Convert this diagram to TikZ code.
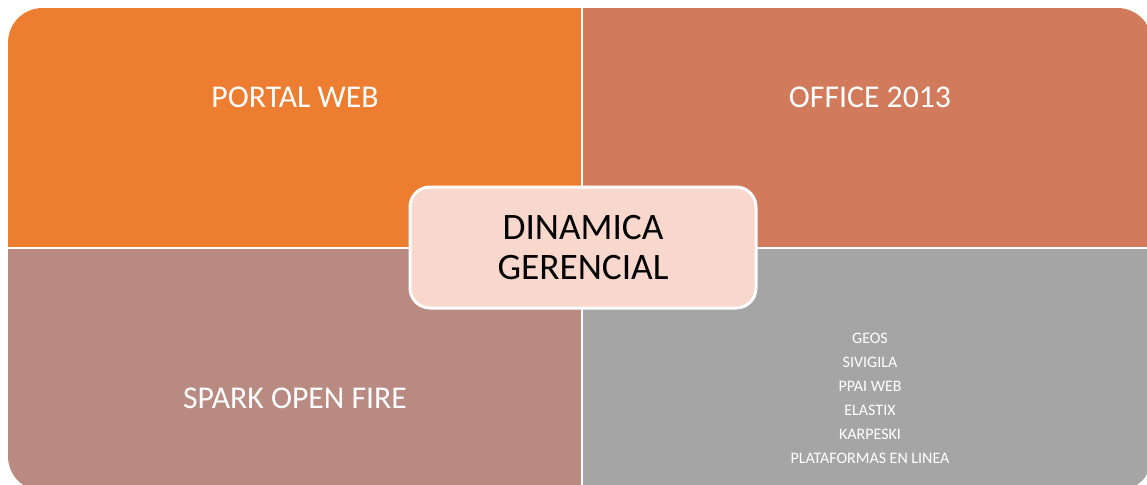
\documentclass[tikz,border=0pt]{standalone}
\usepackage{fontspec}
\setmainfont{Carlito}
\definecolor{qorange}{HTML}{ED7D31}
\definecolor{qsalmon}{HTML}{D27B5C}
\definecolor{qmauve}{HTML}{B98A82}
\definecolor{qgrey}{HTML}{A5A5A5}
\definecolor{qcenter}{HTML}{F8D7CC}
\begin{document}
\begin{tikzpicture}[x=0.75pt,y=-0.75pt,
  quadtext/.style={text=white,font=\fontsize{23.8}{28}\selectfont,align=center},
  listtext/.style={text=white,font=\fontsize{12}{18}\selectfont,align=center},
  hub/.style={draw=white,line width=2.25pt,fill=qcenter,rounded corners=15pt,
    minimum width=346*0.75pt,minimum height=121*0.75pt,
    font=\fontsize{28}{30}\selectfont,align=center}]
  \useasboundingbox (0,0) rectangle (1147,485);
  \begin{scope}
    \clip[rounded corners=26pt] (8,8) rectangle (1152,491);
    \fill[qorange] (8,8) rectangle (581,247);
    \fill[qsalmon] (583,8) rectangle (1152,247);
    \fill[qmauve] (8,249) rectangle (581,491);
    \fill[qgrey] (583,249) rectangle (1152,491);
  \end{scope}
  \node[quadtext] (portal) at (295,97) {PORTAL WEB};
  \node[quadtext] (office) at (870,97) {OFFICE 2013};
  \node[quadtext] (spark) at (295,398) {SPARK OPEN FIRE};
  \node[listtext] (apps) at (870,398) {GEOS\\SIVIGILA\\PPAI WEB\\ELASTIX\\KARPESKI\\PLATAFORMAS EN LINEA};
  \node[hub] (dinamica) at (583,247.5) {DINAMICA\\GERENCIAL};
\end{tikzpicture}
\end{document}
